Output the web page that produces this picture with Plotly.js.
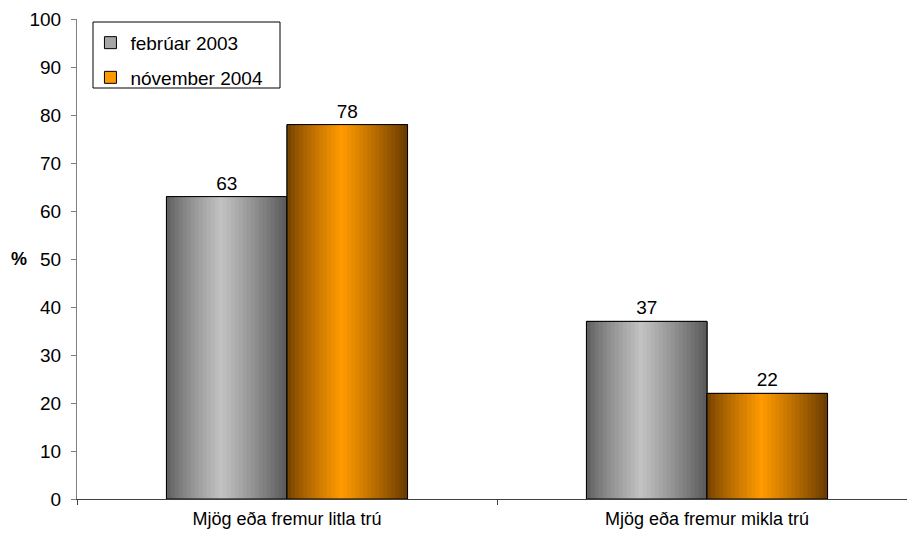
<!DOCTYPE html>
<html>
<head>
<meta charset="utf-8">
<script src="https://cdn.plot.ly/plotly-3.0.1.min.js"></script>
<style>html,body{margin:0;padding:0;overflow:hidden;background:#fff;}</style>
</head>
<body>
<div id="chart" style="width:930px;height:533px;"></div>
<script>
// ---- data ----
const categories = ["Mjög eða fremur litla trú", "Mjög eða fremur mikla trú"];
const seriesNames = ["febrúar 2003", "nóvember 2004"];
const feb2003 = [63, 37];
const nov2004 = [78, 22];
const yTicks = [0, 10, 20, 30, 40, 50, 60, 70, 80, 90, 100];

// ---- styling (gradient stops: edge colour, highlight colour) ----
const seriesData = [feb2003, nov2004];
const gradEdgeL = ["#5a5a5a", "#6e3e00"];
const gradMid = ["#c2c2c2", "#ff9a00"];
const gradEdgeR = ["#595959", "#683a00"];
const legendColor = ["#a6a6a6", "#ff9900"];
const barW = 0.287;
const N = 30;
const midPos = 0.45;

function hex2rgb(h){return [parseInt(h.substr(1,2),16),parseInt(h.substr(3,2),16),parseInt(h.substr(5,2),16)];}
function mix(a,b,t){const A=hex2rgb(a),B=hex2rgb(b);return 'rgb('+A.map((v,i)=>Math.round(v+(B[i]-v)*t)).join(',')+')';}
function gradColor(s,t){
  if(t<midPos){const u=t/midPos;return mix(gradEdgeL[s],gradMid[s],Math.pow(u,0.8));}
  const u=(t-midPos)/(1-midPos);return mix(gradMid[s],gradEdgeR[s],Math.pow(u,1.1));
}

const traces = [];
seriesData.forEach((vals,s)=>{
  const start = -barW + s*barW;
  traces.push({type:'bar',x:categories,y:vals,name:seriesNames[s],legendgroup:'g'+s,
    width:barW,offset:start,marker:{color:legendColor[s],line:{color:'#000',width:1}},hoverinfo:'skip'});
  const step = barW/N;
  for(let i=0;i<N;i++){
    const t=(i+0.5)/N;
    const w = i<N-1 ? step*1.6 : step;
    traces.push({type:'bar',x:categories,y:vals,showlegend:false,width:w,offset:start+i*step,
      marker:{color:gradColor(s,t),line:{width:0}},hoverinfo:'skip'});
  }
  traces.push({type:'bar',x:categories,y:vals,showlegend:false,width:barW,offset:start,
    marker:{color:'rgba(0,0,0,0)',line:{color:'#000',width:1}},
    text:vals.map(String),textposition:'outside',cliponaxis:false,
    textfont:{family:'Liberation Sans, Arial, sans-serif',size:19,color:'#000'},hoverinfo:'skip'});
});

const layout = {
  width:930,height:533,
  margin:{l:77,r:13,t:19,b:34},
  paper_bgcolor:'#fff',plot_bgcolor:'#fff',
  barmode:'overlay',
  font:{family:'Liberation Sans, Arial, sans-serif',size:19,color:'#000'},
  showlegend:true,
  legend:{x:0.016,y:0.99,xanchor:'left',yanchor:'top',bgcolor:'rgba(0,0,0,0)',borderwidth:0,
    font:{size:19},traceorder:'grouped',tracegroupgap:7,itemwidth:30},
  shapes:[{type:'rect',xref:'paper',yref:'paper',x0:16/840,x1:203/840,y0:411/480,y1:477/480,
    line:{color:'#000',width:1},fillcolor:'rgba(0,0,0,0)',layer:'above'}],
  xaxis:{type:'category',range:[-0.5,1.5],showline:true,linecolor:'#404040',linewidth:1,
    ticks:'outside',tickson:'boundaries',ticklen:5,tickcolor:'#404040',showgrid:false,zeroline:false,
    ticklabelstandoff:3,tickfont:{size:18}},
  yaxis:{range:[0,100],tickvals:yTicks,ticktext:yTicks.map(String),showline:true,linecolor:'#808080',linewidth:1,
    ticks:'outside',ticklen:5,tickcolor:'#808080',showgrid:false,zeroline:false,ticklabelstandoff:6,tickfont:{size:19}},
  annotations:[{text:'<b>%</b>',xref:'paper',yref:'y',x:-0.069,y:50,xanchor:'center',yanchor:'middle',showarrow:false,font:{size:18}}]
};

Plotly.newPlot('chart',traces,layout,{displayModeBar:false,staticPlot:true});
</script>
</body>
</html>
